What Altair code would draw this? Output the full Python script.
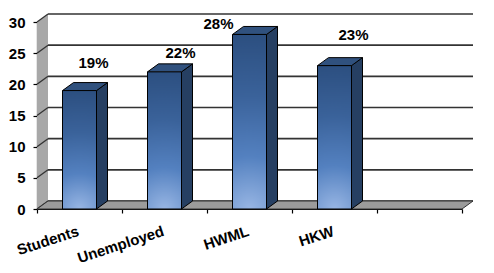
import altair as alt
import pandas as pd

# ---- data ----
categories = ["Students", "Unemployed", "HWML", "HKW"]
values = [19, 22, 28, 23]
value_labels = ["19%", "22%", "28%", "23%"]
y_ticks = [0, 5, 10, 15, 20, 25, 30]
slot_names = categories + [""]          # fifth, empty category slot

# ---- layout / style constants ----
W, H = 425, 187
Y_MAX = 30
N = len(slot_names)
DX = 11 / (W / N)          # 3-D depth, x (data units)
DY = 8 / (H / Y_MAX)       # 3-D depth, y (data units)
BAR_LO, BAR_HI = 0.3, 0.7
LABEL_SHIFT = [(14, -28), (16, -19), (-31, -10), (19, -31)]
FONT = "Liberation Sans"

xq = alt.Scale(domain=[0, N], nice=False, zero=False)
yq = alt.Scale(domain=[0, Y_MAX], nice=False)
Y_AXIS = alt.Axis(values=y_ticks, title=None, labelFont=FONT, labelFontSize=15,
                  labelFontWeight="bold", labelColor="black", labelPadding=8,
                  domainColor="black", domainWidth=1.2, tickColor="black",
                  tickSize=4, tickWidth=1.2, grid=False)

bars = pd.DataFrame({"cat": categories, "value": values, "label": value_labels})
bars["idx"] = range(len(categories))
bars["x0"] = bars.idx + BAR_LO
bars["x1"] = bars.idx + BAR_HI
bars["xc"] = bars.idx + 0.5

side_rows, top_rows = [], []
for i, (c, v) in enumerate(zip(categories, values)):
    side_rows += [dict(cat=c, x=i + BAR_HI, lo=0, hi=v),
                  dict(cat=c, x=i + BAR_HI + DX, lo=DY, hi=v + DY)]
    top_rows += [dict(cat=c, y=v, xa=i + BAR_LO, xb=i + BAR_HI),
                 dict(cat=c, y=v + DY, xa=i + BAR_LO + DX, xb=i + BAR_HI + DX)]
side = pd.DataFrame(side_rows)
top = pd.DataFrame(top_rows)

wall = pd.DataFrame([dict(x=0, lo=0, hi=Y_MAX), dict(x=DX, lo=DY, hi=Y_MAX + DY)])
floor = pd.DataFrame([dict(y=0, xa=0, xb=N), dict(y=DY, xa=DX, xb=N + DX)])
grid = pd.DataFrame({"v": y_ticks})
grid["yb"] = grid.v + DY
grid["xa"] = DX
grid["xb"] = N + DX
grid["x0"] = 0

GRID_COLOR = "#333333"

back_grid = alt.Chart(grid).mark_rule(color=GRID_COLOR, strokeWidth=1.6).encode(
    x=alt.X("xa:Q", scale=xq, axis=None), x2="xb:Q",
    y=alt.Y("yb:Q", scale=yq, axis=Y_AXIS))

left_wall = alt.Chart(wall).mark_area(orient="vertical", color="#a8a8a8").encode(
    x=alt.X("x:Q", scale=xq, axis=None),
    y=alt.Y("lo:Q", scale=yq, axis=Y_AXIS, stack=None), y2="hi:Q")

side_grid = alt.Chart(grid).mark_rule(color=GRID_COLOR, strokeWidth=1.3).encode(
    x=alt.X("x0:Q", scale=xq, axis=None), x2="xa:Q",
    y=alt.Y("v:Q", scale=yq, axis=Y_AXIS), y2="yb:Q")

floor_l = alt.Chart(floor).mark_area(orient="horizontal", color="#9b9b9b",
                                     stroke="#333333", strokeWidth=1).encode(
    y=alt.Y("y:Q", scale=yq, axis=Y_AXIS),
    x=alt.X("xa:Q", scale=xq, axis=None, stack=None), x2="xb:Q")

side_l = alt.Chart(side).mark_area(orient="vertical", color="#263f62",
                                   stroke="black", strokeWidth=1).encode(
    x=alt.X("x:Q", scale=xq, axis=None),
    y=alt.Y("lo:Q", scale=yq, axis=Y_AXIS, stack=None), y2="hi:Q",
    detail="cat:N")

top_l = alt.Chart(top).mark_area(orient="horizontal", color="#30517e",
                                 stroke="black", strokeWidth=1).encode(
    y=alt.Y("y:Q", scale=yq, axis=Y_AXIS),
    x=alt.X("xa:Q", scale=xq, axis=None, stack=None), x2="xb:Q",
    detail="cat:N")

front_l = alt.Chart(bars).mark_rect(
    fill=alt.Gradient(gradient="radial", x1=0.5, y1=1.0, r1=0.0, x2=0.5, y2=1.0, r2=1.0,
                      stops=[alt.GradientStop(color="#98b6e4", offset=0),
                             alt.GradientStop(color="#5481c0", offset=0.3),
                             alt.GradientStop(color="#3a629a", offset=0.65),
                             alt.GradientStop(color="#2c4f80", offset=1)]),
    stroke="black", strokeWidth=1).encode(
    x=alt.X("x0:Q", scale=xq, axis=None), x2="x1:Q",
    y=alt.Y("value:Q", scale=yq, axis=Y_AXIS, stack=None), y2=alt.datum(0))

text_layers = []
for i, (dx, dy) in enumerate(LABEL_SHIFT):
    text_layers.append(
        alt.Chart(bars.iloc[[i]]).mark_text(font=FONT, fontSize=15, fontWeight="bold",
                                            color="black", dx=dx, dy=dy,
                                            align="center", baseline="middle").encode(
            x=alt.X("xc:Q", scale=xq, axis=None),
            y=alt.Y("value:Q", scale=yq, axis=Y_AXIS),
            text="label:N"))

axis_l = alt.Chart(bars).mark_bar(opacity=0).encode(
    x=alt.X("cat:N", title=None,
            scale=alt.Scale(type="band", domain=slot_names, paddingInner=0, paddingOuter=0),
            axis=alt.Axis(tickBand="extent", labelAngle=-18, labelAlign="right",
                          labelBaseline="alphabetic", labelPadding=22, labelFont=FONT,
                          labelFontSize=15, labelFontWeight="bold", labelColor="black",
                          domainColor="black", domainWidth=1.2, tickColor="black",
                          tickSize=4, tickWidth=1.2, grid=False)),
    y=alt.Y("value:Q", scale=yq, axis=Y_AXIS, stack=None))

chart = alt.layer(back_grid, left_wall, side_grid, floor_l, side_l, top_l, front_l,
                  *text_layers, axis_l).resolve_scale(x="independent").properties(
    width=W, height=H, autosize="none",
    padding={"left": 37, "top": 22, "right": 32, "bottom": 64},
    background="white").configure_view(stroke=None)

chart.save("out.html", embed_options={"renderer": "svg", "actions": False})
